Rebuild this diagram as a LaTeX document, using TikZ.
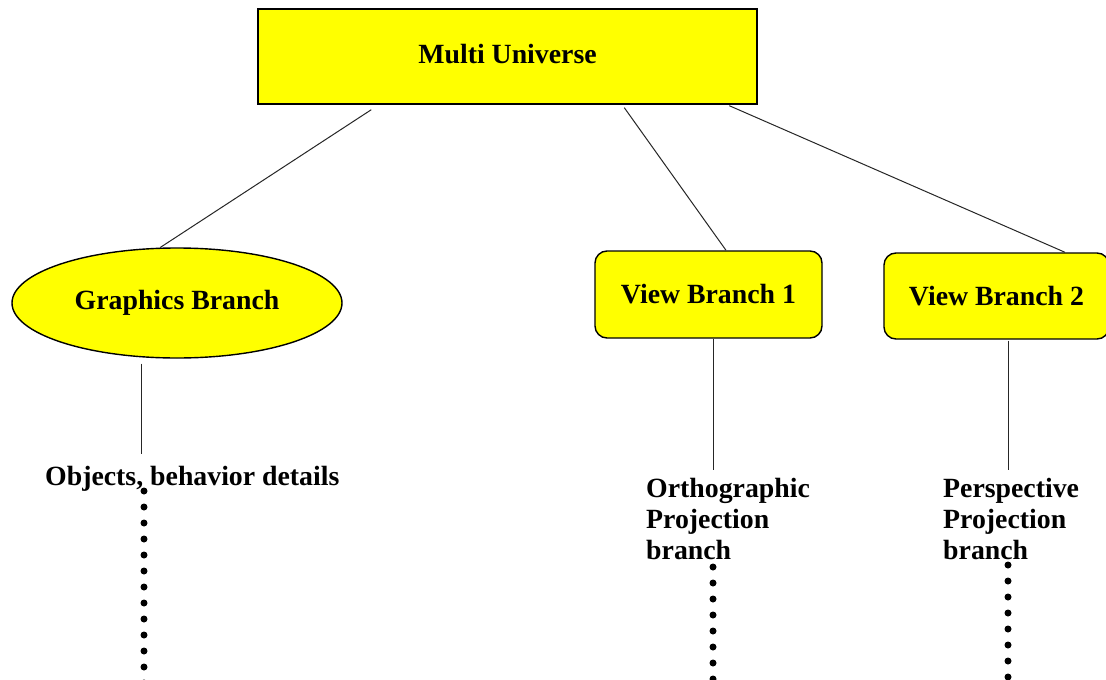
\documentclass[tikz,border=0pt]{standalone}
\usepackage{fontspec}
\setmainfont{Liberation Serif}
\usetikzlibrary{shapes.geometric,calc}
\definecolor{boxyellow}{RGB}{255,255,0}
\tikzset{
  txt/.style={font=\bfseries\fontsize{27.8}{31}\selectfont},
  yel/.style={txt, draw=black, line width=1.4pt, fill=boxyellow, inner sep=0pt},
  lbl/.style={txt, inner sep=0pt, align=left},
  link/.style={line width=1pt, draw=black!85},
  dotline/.style={line width=7pt, line cap=round, dash pattern=on 0pt off 16pt}
}
\begin{document}
\begin{tikzpicture}[x=1pt, y=-1pt]
\useasboundingbox (0,0) rectangle (1106,680);
\clip (0,0) rectangle (1106,680);
\fill[white] (0,0) rectangle (1106,680);

% nodes
\node[yel, rectangle, minimum width=499pt, minimum height=95pt] (mu) at (507.5,56.5) {\raisebox{6pt}{Multi Universe}};
\node[yel, ellipse, minimum width=330pt, minimum height=110pt] (gb) at (177,303) {Graphics Branch};
\node[yel, rectangle, rounded corners=12pt, minimum width=227pt, minimum height=87pt] (vb1) at (708.5,294.5) {View Branch 1};
\node[yel, rectangle, rounded corners=12pt, minimum width=225pt, minimum height=86pt] (vb2) at (996.5,296) {View Branch 2};

\node[lbl, anchor=base west] (obj) at (45,485) {Objects, behavior details};
\node[lbl, anchor=north west] (ortho) at (646,478) {Orthographic\\Projection\\branch};
\node[lbl, anchor=north west] (persp) at (943,478) {Perspective\\Projection\\branch};

% connectors from the root
\draw[link] ($(mu.south west)+(114,5)$) -- (gb.107);
\draw[link] ($(mu.south west)+(367,3)$) -- ($(vb1.north)+(17.5,0)$);
\draw[link] ($(mu.south west)+(472,1)$) -- ($(vb2.north)+(68.5,0)$);

% vertical stems
\draw[link] ($(gb.south)+(-36,5)$) -- ($(obj.north west)+(96,-12)$);
\draw[link] ($(vb1.south)+(4.5,0)$) -- ($(ortho.north west)+(67,-8)$);
\draw[link] ($(vb2.south)+(11.5,1)$) -- ($(persp.north west)+(65,-8)$);

% dotted continuations
\coordinate (d1s) at (144,491);
\coordinate (d1e) at (144,700);
\coordinate (d2s) at (713,567);
\coordinate (d2e) at (713,700);
\coordinate (d3s) at (1008,565);
\coordinate (d3e) at (1008,700);
\draw[dotline] (d1s) -- (d1e);
\draw[dotline] (d2s) -- (d2e);
\draw[dotline] (d3s) -- (d3e);
\end{tikzpicture}
\end{document}
